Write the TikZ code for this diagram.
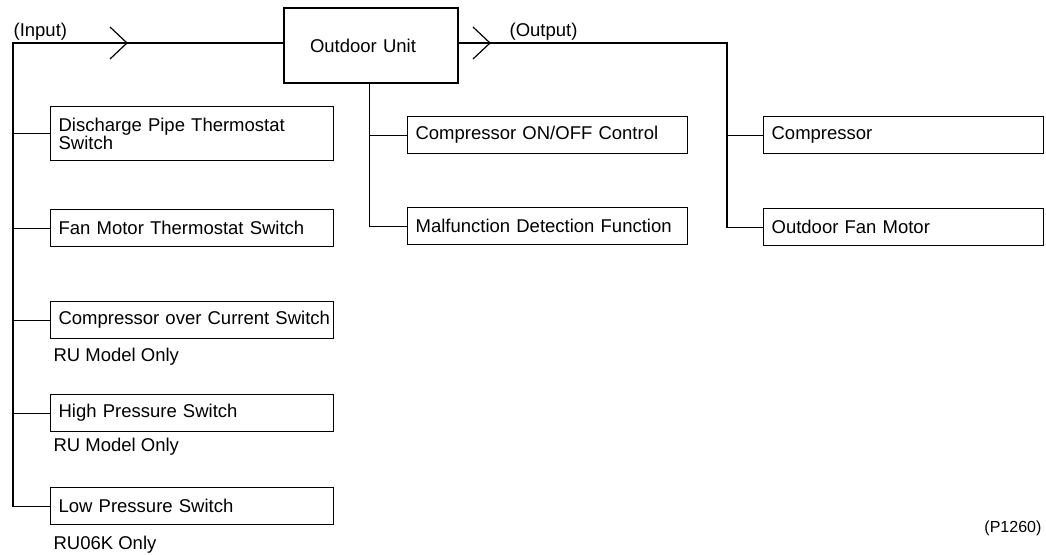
\documentclass[tikz,border=0pt]{standalone}
\usepackage{fontspec}
\setmainfont{Liberation Sans}
\begin{document}
\begin{tikzpicture}[x=1pt,y=-1pt,line width=1.2pt,
  every node/.style={font=\fontsize{18.5}{17}\selectfont},
  lbox/.style={draw,anchor=north west,inner xsep=8pt,inner ysep=0pt,text width=267pt,align=left,minimum height=37pt},
  rbox/.style={draw,anchor=north west,inner xsep=8pt,inner ysep=0pt,text width=264pt,align=left,minimum height=37pt},
  lbl/.style={anchor=base west,inner sep=0pt}]
\useasboundingbox (0,0) rectangle (1046,554);
% main unit
\node[draw,minimum width=174pt,minimum height=75pt,text width=122pt,inner xsep=0pt,align=left] (ou) at (371,45.5) {Outdoor Unit};
% inputs
\node[lbox,minimum height=54pt] (dp) at (50,106) {Discharge Pipe Thermostat\\Switch};
\node[lbox] (fm) at (50,209) {Fan Motor Thermostat Switch};
\node[lbox] (co) at (50,301) {\mbox{Compressor over Current Switch}};
\node[lbox] (hp) at (50,394) {High Pressure Switch};
\node[lbox] (lp) at (50,487) {Low Pressure Switch};
\node[lbl] (n1) at (53,361) {RU Model Only};
\node[lbl] (n2) at (53,451) {RU Model Only};
\node[lbl] (n3) at (53,549) {RU06K Only};
% functions
\node[rbox] (oo) at (407,116) {Compressor ON/OFF Control};
\node[rbox] (mf) at (407,207) {Malfunction Detection Function};
% outputs
\node[rbox] (cp) at (763,116) {Compressor};
\node[rbox] (of) at (763,208) {Outdoor Fan Motor};
% labels
\node[lbl] (inl) at (13,36) {(Input)};
\node[lbl] (outl) at (509,36) {(Output)};
\node[anchor=base east,inner sep=0pt,font=\fontsize{16}{18}\selectfont] (pn) at (1042,532) {(P1260)};
% input bus
\coordinate (inTop) at (13,43);
\draw (lp.west) -| (inTop) -- (inTop -| ou.west);
\foreach \b in {dp,fm,co,hp} \draw (\b.west) -- (\b.west -| inTop);
\draw (110,27) -- (127,43) -- (110,59);
% function bus
\coordinate (mTop) at ([xshift=86pt]ou.south west);
\draw (mTop) |- (mf.west);
\draw (oo.west) -- (oo.west -| mTop);
% output bus
\coordinate (oCorner) at (727,43);
\draw (oCorner -| ou.east) -- (oCorner) |- (of.west);
\draw (cp.west) -- (cp.west -| oCorner);
\draw (473,27) -- (490,43) -- (473,59);
\end{tikzpicture}
\end{document}
